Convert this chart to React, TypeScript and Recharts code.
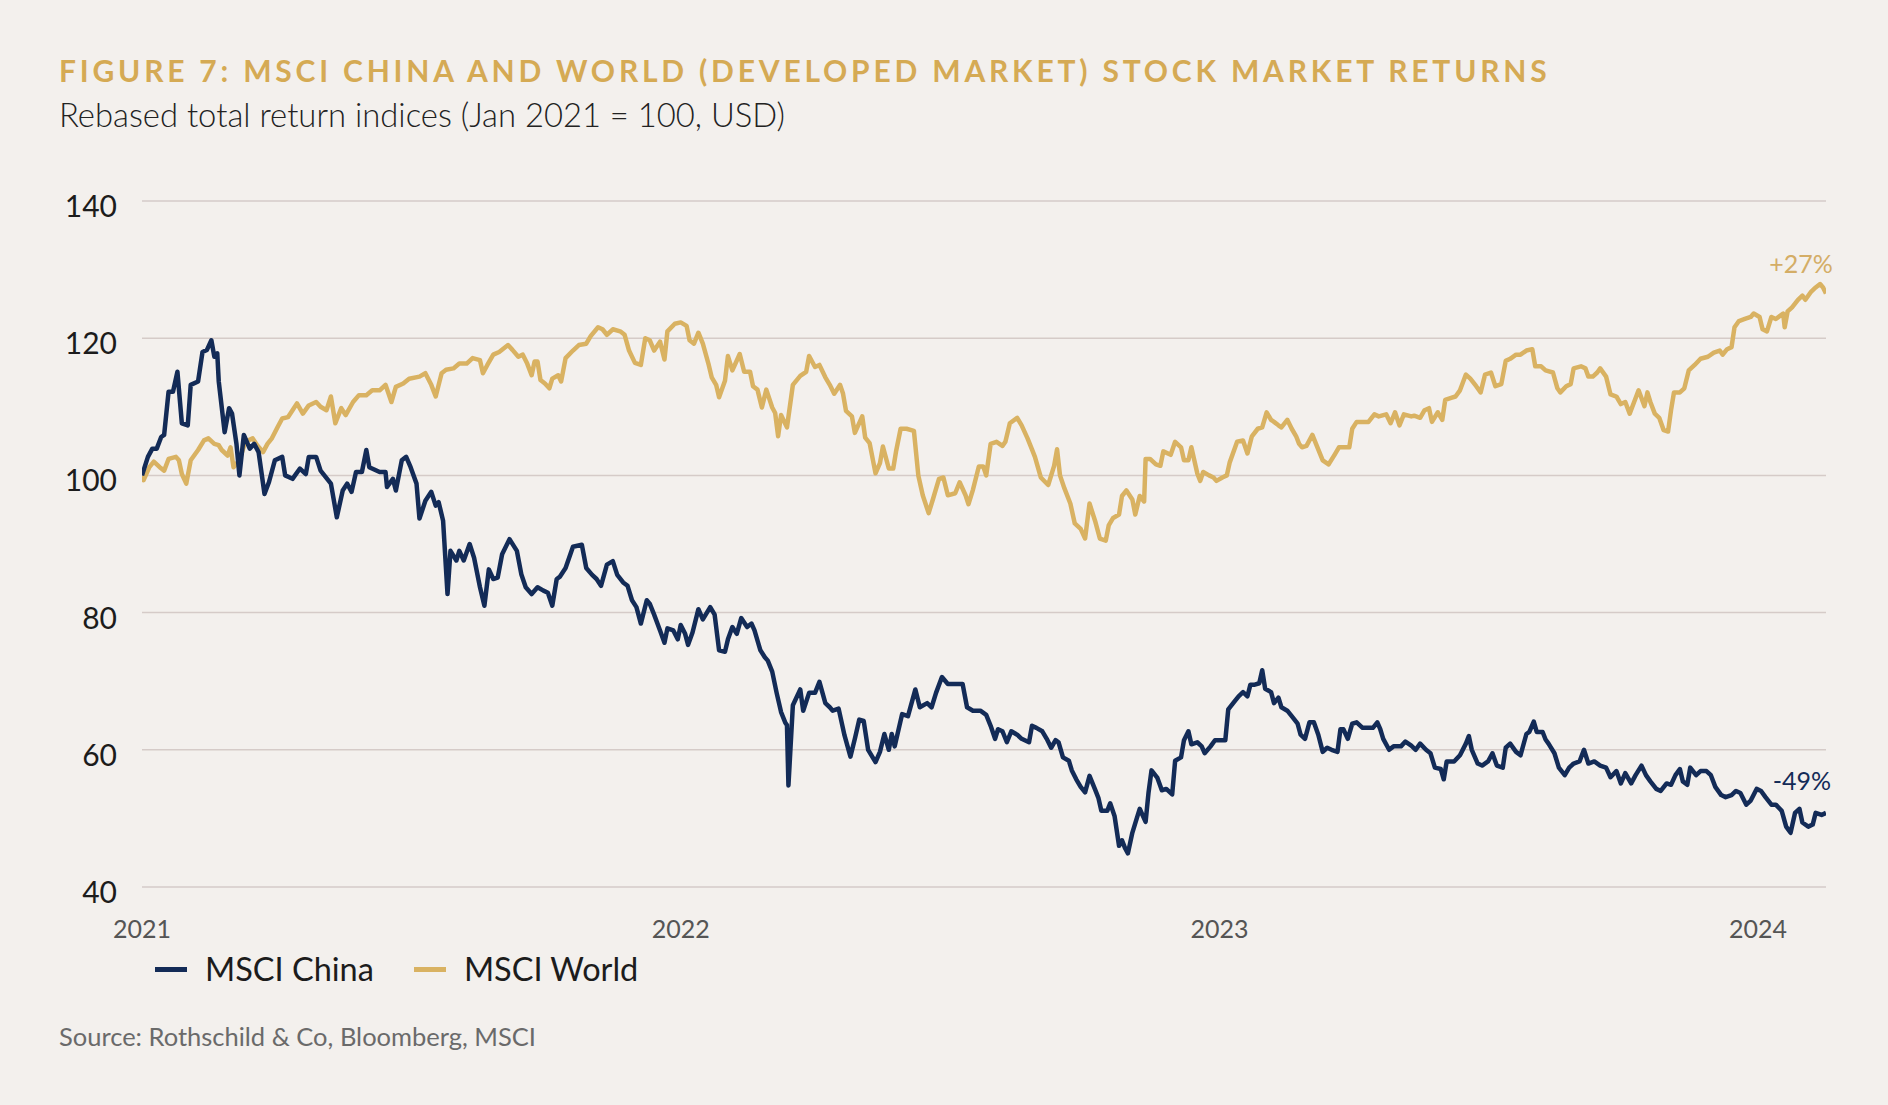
import React from 'react';
import { LineChart, Line, XAxis, YAxis, CartesianGrid, Legend } from 'recharts';

// [days since 1 Jan 2021, rebased index]
const chinaPoints: [number, number][] = [
  [0,100.0],[4,102.7],[7,103.9],[10,103.9],[13,105.6],[15,105.9],[18,112.2],[21,112.2],[24,115.1],[27,107.6],
  [31,107.3],[33,113.2],[38,113.7],[41,118.0],[44,118.3],[47,119.7],[49,117.3],[51,117.8],[52,113.7],[56,106.3],
  [59,109.8],[61,109.0],[64,104.6],[66,100.0],[69,105.9],[73,103.9],[76,104.6],[79,103.4],[83,97.3],[86,99.0],
  [90,102.2],[95,102.7],[97,100.0],[102,99.5],[107,101.0],[111,100.2],[113,102.7],[118,102.7],[121,100.7],[128,98.8],
  [132,93.9],[136,97.8],[139,98.8],[142,97.6],[145,100.5],[149,100.5],[152,103.7],[154,101.2],[161,100.5],[165,100.5],
  [166,98.3],[170,99.5],[172,97.8],[176,102.2],[179,102.7],[182,101.2],[186,98.8],[188,93.7],[192,96.3],[196,97.6],
  [199,95.6],[201,96.1],[204,93.4],[207,82.7],[209,89.0],[213,87.6],[215,89.0],[218,87.6],[222,90.0],[225,88.0],
  [229,83.7],[232,81.0],[235,86.3],[238,84.9],[241,85.1],[244,88.5],[249,90.7],[254,89.0],[257,85.6],[260,83.7],
  [264,82.7],[268,83.7],[272,83.2],[275,82.9],[278,81.0],[281,84.9],[283,85.2],[287,86.5],[292,89.6],[298,89.9],
  [301,86.5],[305,85.5],[308,84.9],[311,83.9],[315,87.0],[319,87.5],[322,85.5],[326,84.4],[329,83.9],[332,81.8],
  [335,80.8],[338,78.4],[342,81.8],[344,81.3],[347,79.7],[351,77.4],[354,75.6],[356,77.7],[360,77.4],[363,76.1],
  [365,78.2],[368,76.9],[370,75.3],[373,77.1],[377,80.5],[380,79.0],[385,80.8],[388,79.7],[391,74.5],[395,74.3],
  [397,76.1],[400,77.9],[403,76.9],[406,79.2],[410,77.9],[413,78.4],[415,77.4],[419,74.5],[422,73.5],[424,73.0],
  [427,71.4],[430,68.3],[433,65.5],[436,63.9],[437,63.6],[438,54.8],[441,66.5],[446,68.8],[448,65.7],[452,68.3],
  [456,68.3],[459,69.9],[463,66.8],[466,66.2],[468,65.7],[472,66.0],[476,62.1],[480,59.0],[483,61.6],[486,64.4],
  [489,64.2],[492,60.0],[497,58.2],[500,59.7],[503,62.3],[506,60.0],[508,62.3],[510,60.5],[515,65.2],[519,64.9],
  [524,68.8],[527,66.2],[532,66.8],[535,66.2],[538,68.3],[542,70.6],[546,69.6],[552,69.6],[556,69.6],[559,66.2],
  [563,65.7],[568,65.7],[572,65.1],[575,63.5],[578,61.6],[580,63.0],[583,62.7],[586,61.1],[589,62.7],[593,62.2],
  [596,61.6],[601,61.1],[603,63.5],[606,63.2],[610,62.7],[613,61.6],[616,60.3],[619,61.4],[621,61.1],[624,58.9],
  [628,58.4],[630,57.0],[633,55.7],[636,54.6],[639,53.8],[642,56.2],[646,54.1],[648,53.0],[650,51.1],[654,51.1],
  [656,52.2],[659,50.3],[662,46.0],[664,46.8],[666,45.7],[668,44.9],[671,47.9],[674,50.0],[676,51.4],[680,49.5],
  [682,53.8],[684,57.0],[688,55.9],[691,54.1],[694,54.3],[698,53.5],[700,58.4],[704,58.9],[706,61.4],[709,62.7],
  [711,60.8],[715,61.1],[718,60.5],[720,59.5],[724,60.5],[727,61.4],[734,61.4],[736,65.9],[740,67.0],[743,67.8],
  [746,68.4],[749,67.8],[751,69.5],[754,69.5],[757,69.7],[759,71.6],[761,68.9],[765,68.4],[767,66.8],[770,67.6],
  [772,66.2],[776,65.7],[779,64.9],[783,63.8],[785,62.2],[788,61.6],[791,64.0],[794,64.0],[797,62.2],[800,59.7],
  [803,60.3],[806,60.0],[810,59.7],[812,63.0],[814,63.0],[817,61.6],[820,63.8],[823,64.0],[827,63.2],[834,63.2],
  [837,64.0],[839,63.0],[841,61.6],[845,60.0],[848,60.5],[853,60.5],[856,61.2],[860,60.6],[863,60.0],[866,60.9],
  [870,60.0],[873,59.5],[876,57.4],[880,57.2],[882,55.7],[884,58.3],[889,58.3],[893,59.2],[897,60.9],[899,62.0],
  [901,60.0],[905,58.0],[908,57.7],[912,58.3],[915,59.5],[918,57.7],[922,57.4],[924,60.3],[927,60.9],[931,59.7],
  [934,59.2],[938,62.3],[940,62.6],[943,64.1],[945,62.6],[949,62.6],[951,61.5],[953,60.9],[957,59.5],[960,57.4],
  [964,56.3],[967,57.4],[970,58.0],[974,58.3],[977,60.0],[980,58.0],[984,58.3],[988,57.7],[992,57.4],[995,56.0],
  [999,56.9],[1002,55.1],[1005,56.6],[1009,55.1],[1012,56.3],[1016,57.7],[1019,56.3],[1022,55.4],[1026,54.3],[1029,54.0],
  [1033,55.1],[1036,54.9],[1039,56.3],[1042,57.2],[1044,55.4],[1047,54.9],[1049,57.4],[1053,56.3],[1056,56.9],[1060,56.9],
  [1063,56.3],[1066,54.6],[1070,53.4],[1073,53.1],[1077,53.4],[1080,54.0],[1083,53.7],[1087,52.0],[1090,52.6],[1094,54.3],
  [1097,54.0],[1100,53.1],[1104,52.0],[1107,52.0],[1111,51.1],[1114,48.8],[1117,47.9],[1120,50.8],[1123,51.4],[1125,49.4],
  [1129,48.8],[1132,49.1],[1134,50.8],[1138,50.5],[1141,50.8],
];

const worldPoints: [number, number][] = [
  [0,100.0],[1,99.3],[5,101.2],[8,102.0],[12,101.2],[15,100.7],[18,102.4],[23,102.7],[25,102.2],[27,100.2],
  [30,98.8],[33,102.2],[38,103.7],[42,105.1],[45,105.4],[49,104.6],[52,104.4],[54,103.7],[58,102.9],[60,104.1],
  [62,101.2],[66,102.2],[70,104.9],[75,105.4],[78,104.4],[82,103.4],[85,104.6],[88,105.4],[92,107.1],[95,108.3],
  [99,108.5],[102,109.5],[105,110.5],[109,109.0],[113,110.2],[118,110.7],[121,110.0],[125,109.5],[128,111.5],[131,107.6],
  [135,109.8],[138,108.8],[143,110.7],[147,111.7],[152,111.7],[156,112.4],[161,112.4],[165,113.2],[169,110.7],[172,112.9],
  [177,113.4],[181,114.1],[188,114.4],[192,114.9],[196,113.2],[199,111.5],[203,114.9],[206,115.4],[211,115.6],[215,116.3],
  [220,116.3],[224,117.1],[229,116.8],[231,114.9],[234,116.1],[238,117.6],[242,118.0],[248,119.0],[251,118.3],[255,117.3],
  [258,117.6],[261,116.3],[264,114.6],[266,116.6],[268,116.6],[270,113.9],[273,113.4],[276,112.7],[278,114.1],[282,114.6],
  [284,113.7],[287,117.1],[292,118.2],[296,119.0],[301,119.2],[304,120.3],[309,121.6],[312,121.3],[315,120.5],[319,121.3],
  [324,121.0],[327,120.5],[330,118.2],[334,116.4],[338,116.1],[341,120.0],[344,119.7],[347,118.2],[351,119.5],[354,116.9],
  [356,121.0],[361,122.1],[365,122.3],[369,121.8],[371,119.7],[374,119.2],[377,120.8],[380,119.2],[384,116.1],[386,114.3],
  [389,113.2],[391,111.4],[395,113.8],[397,117.4],[400,115.3],[405,117.7],[408,115.1],[412,115.1],[414,113.0],[417,112.5],
  [420,109.9],[423,112.5],[427,109.9],[429,109.1],[431,105.7],[433,108.8],[437,107.0],[441,113.2],[446,114.5],[450,115.1],
  [452,117.4],[456,115.8],[459,116.1],[463,114.3],[466,113.2],[469,111.9],[473,113.2],[475,111.9],[477,109.4],[481,108.6],
  [483,106.2],[488,108.6],[490,105.5],[493,104.7],[497,100.3],[500,101.8],[502,104.2],[506,101.0],[509,101.0],[511,103.6],
  [514,106.8],[518,106.8],[523,106.5],[526,100.0],[529,97.1],[533,94.5],[536,96.6],[540,99.5],[543,99.7],[546,97.1],
  [551,97.4],[554,99.0],[558,97.1],[560,95.8],[563,97.9],[567,101.3],[570,101.3],[572,100.0],[575,104.6],[579,104.9],
  [583,104.3],[585,104.9],[588,107.6],[593,108.4],[596,107.3],[600,105.4],[603,103.8],[605,102.7],[609,99.7],[614,98.6],
  [618,101.4],[620,103.8],[622,100.0],[625,98.1],[629,95.9],[632,93.0],[636,92.2],[639,90.8],[642,95.9],[646,93.2],
  [649,90.8],[653,90.5],[655,92.7],[658,93.8],[662,94.3],[664,97.0],[667,97.8],[671,96.5],[673,94.3],[676,97.0],
  [679,96.2],[680,102.4],[683,102.4],[687,101.6],[690,101.4],[692,103.5],[697,103.0],[700,104.9],[704,104.1],[706,102.2],
  [709,102.2],[711,104.1],[715,100.3],[717,99.2],[719,100.5],[723,100.0],[726,99.7],[728,99.2],[732,99.7],[735,100.0],
  [737,101.9],[742,104.9],[746,105.1],[749,103.2],[752,105.7],[756,106.8],[759,107.0],[762,109.2],[765,108.1],[767,107.8],
  [770,107.3],[772,107.0],[776,108.1],[779,106.8],[782,105.7],[784,104.6],[786,104.1],[789,104.3],[793,105.9],[796,104.3],
  [800,102.2],[804,101.6],[808,103.0],[811,104.1],[814,104.1],[818,104.1],[820,106.8],[823,107.8],[828,107.8],[831,107.8],
  [835,108.9],[838,108.6],[843,108.9],[846,107.6],[849,109.2],[852,107.3],[855,108.9],[860,108.6],[862,108.7],[866,108.4],
  [869,109.5],[872,109.8],[874,107.8],[878,109.2],[881,108.1],[883,111.0],[887,111.3],[890,111.5],[893,112.4],[897,114.7],
  [900,114.1],[904,113.0],[907,112.1],[910,114.7],[914,115.0],[917,113.0],[921,113.3],[924,116.7],[927,117.0],[931,117.6],
  [934,117.6],[938,118.2],[942,118.4],[944,115.9],[948,115.9],[951,115.3],[956,115.0],[959,112.7],[961,112.1],[965,113.0],
  [968,113.3],[970,115.6],[975,115.9],[978,115.6],[980,114.4],[983,114.4],[986,115.0],[988,115.6],[992,114.4],[995,111.8],
  [999,111.5],[1002,110.4],[1005,110.7],[1008,109.0],[1011,110.7],[1014,112.4],[1018,110.1],[1020,112.1],[1022,110.7],[1025,109.0],
  [1028,108.4],[1031,106.6],[1034,106.4],[1036,109.5],[1038,112.1],[1042,112.1],[1045,112.7],[1048,115.3],[1052,116.1],[1056,117.0],
  [1061,117.3],[1065,117.9],[1069,118.2],[1071,117.6],[1074,118.4],[1077,118.7],[1079,121.6],[1082,122.5],[1086,122.8],[1090,123.1],
  [1092,123.6],[1096,123.1],[1098,121.3],[1101,121.0],[1104,123.1],[1107,122.8],[1112,123.6],[1113,121.6],[1115,123.9],[1118,124.5],
  [1122,125.6],[1125,126.2],[1127,125.6],[1131,126.8],[1134,127.4],[1137,127.9],[1139,127.4],[1141,126.5],
];

const yearTicks = [0, 365, 730, 1095];
const yearLabels = ['2021', '2022', '2023', '2024'];
const valueTicks = [40, 60, 80, 100, 120, 140];
const seriesNames = ['MSCI China', 'MSCI World'];
const seriesColors = ['#132b57', '#d9b262'];
const endLabels = ['-49%', '+27%'];

const chinaData = chinaPoints.map(([day, value]) => ({ day, value }));
const worldData = worldPoints.map(([day, value]) => ({ day, value }));

const FONT = 'Lato, "Open Sans", sans-serif';
const BG = '#f3f0ed';

const YTick = (props: any) => {
  const { x, y, payload } = props;
  return (
    <text x={x} y={y + 4} textAnchor="end" dominantBaseline="central" fontFamily={FONT} fontSize={30} fill="#1c1c1c">
      {payload.value}
    </text>
  );
};

const XTick = (props: any) => {
  const { x, y, payload } = props;
  const i = yearTicks.indexOf(payload.value);
  return (
    <text x={x} y={y + 41} textAnchor="middle" dominantBaseline="central" fontFamily={FONT} fontSize={25} fill="#555">
      {yearLabels[i]}
    </text>
  );
};

const makeEndLabel = (text: string, color: string, last: number, dx: number, dy: number) => (props: any) => {
  if (props.index !== last) return <g key={`n${props.index}`} />;
  return (
    <text key="end" x={props.x + dx} y={props.y + dy} textAnchor="middle" dominantBaseline="central" fontFamily={FONT} fontSize={25} fill={color}>
      {text}
    </text>
  );
};

const renderLegend = () => (
  <div style={{ display: 'flex', alignItems: 'center', fontFamily: FONT, fontSize: 32.5, color: '#1c1c1c', lineHeight: 1 }}>
    {seriesNames.map((name, i) => (
      <div key={name} style={{ display: 'flex', alignItems: 'center', marginRight: 40 }}>
        <span style={{ display: 'inline-block', width: 32, height: 5, background: seriesColors[i], marginRight: 18 }} />
        <span>{name}</span>
      </div>
    ))}
  </div>
);

export default function App() {
  return (
    <div style={{ position: 'relative', width: 1888, height: 1105, background: BG, overflow: 'hidden' }}>
      <style>{'body{margin:0;}'}</style>
      <div style={{ position: 'absolute', left: 59, top: 55, fontFamily: FONT, fontWeight: 700, fontSize: 30, lineHeight: 1, letterSpacing: 3.8, color: '#d5aa54', whiteSpace: 'nowrap' }}>
        FIGURE 7: MSCI CHINA AND WORLD (DEVELOPED MARKET) STOCK MARKET RETURNS
      </div>
      <div style={{ position: 'absolute', left: 59, top: 99, fontFamily: FONT, fontWeight: 300, fontSize: 32.8, lineHeight: 1, color: '#222', whiteSpace: 'nowrap' }}>
        Rebased total return indices (Jan 2021 = 100, USD)
      </div>
      <div style={{ position: 'absolute', left: 59, top: 1024, fontFamily: FONT, fontSize: 25.5, lineHeight: 1, color: '#6a6a6a', whiteSpace: 'nowrap' }}>
        Source: Rothschild &amp; Co, Bloomberg, MSCI
      </div>
      <div style={{ position: 'absolute', left: 0, top: 0 }}>
        <LineChart width={1888} height={1105} margin={{ top: 201, right: 62, bottom: 0, left: 0 }}>
          <CartesianGrid vertical={false} stroke="#d5cbc8" strokeWidth={1.5} />
          <XAxis
            dataKey="day"
            type="number"
            domain={[0, 1141]}
            ticks={yearTicks}
            allowDataOverflow
            axisLine={false}
            tickLine={false}
            tickSize={0}
            tickMargin={0}
            height={218}
            tick={<XTick />}
            interval={0}
          />
          <YAxis
            type="number"
            domain={[40, 140]}
            ticks={valueTicks}
            axisLine={false}
            tickLine={false}
            tickSize={0}
            tickMargin={25}
            width={142}
            tick={<YTick />}
            interval={0}
          />
          <Legend
            layout="horizontal"
            verticalAlign="middle"
            align="center"
            content={renderLegend}
            wrapperStyle={{ left: 155, top: 953, width: 'auto' }}
          />
          <Line
            data={worldData}
            dataKey="value"
            name={seriesNames[1]}
            stroke={seriesColors[1]}
            strokeWidth={4.5}
            strokeLinejoin="round"
            dot={false}
            type="linear"
            isAnimationActive={false}
            label={makeEndLabel(endLabels[1], '#d4ad66', worldData.length - 1, -25, -31)}
          />
          <Line
            data={chinaData}
            dataKey="value"
            name={seriesNames[0]}
            stroke={seriesColors[0]}
            strokeWidth={4.5}
            strokeLinejoin="round"
            dot={false}
            type="linear"
            isAnimationActive={false}
            label={makeEndLabel(endLabels[0], seriesColors[0], chinaData.length - 1, -24, -33)}
          />
        </LineChart>
      </div>
    </div>
  );
}
